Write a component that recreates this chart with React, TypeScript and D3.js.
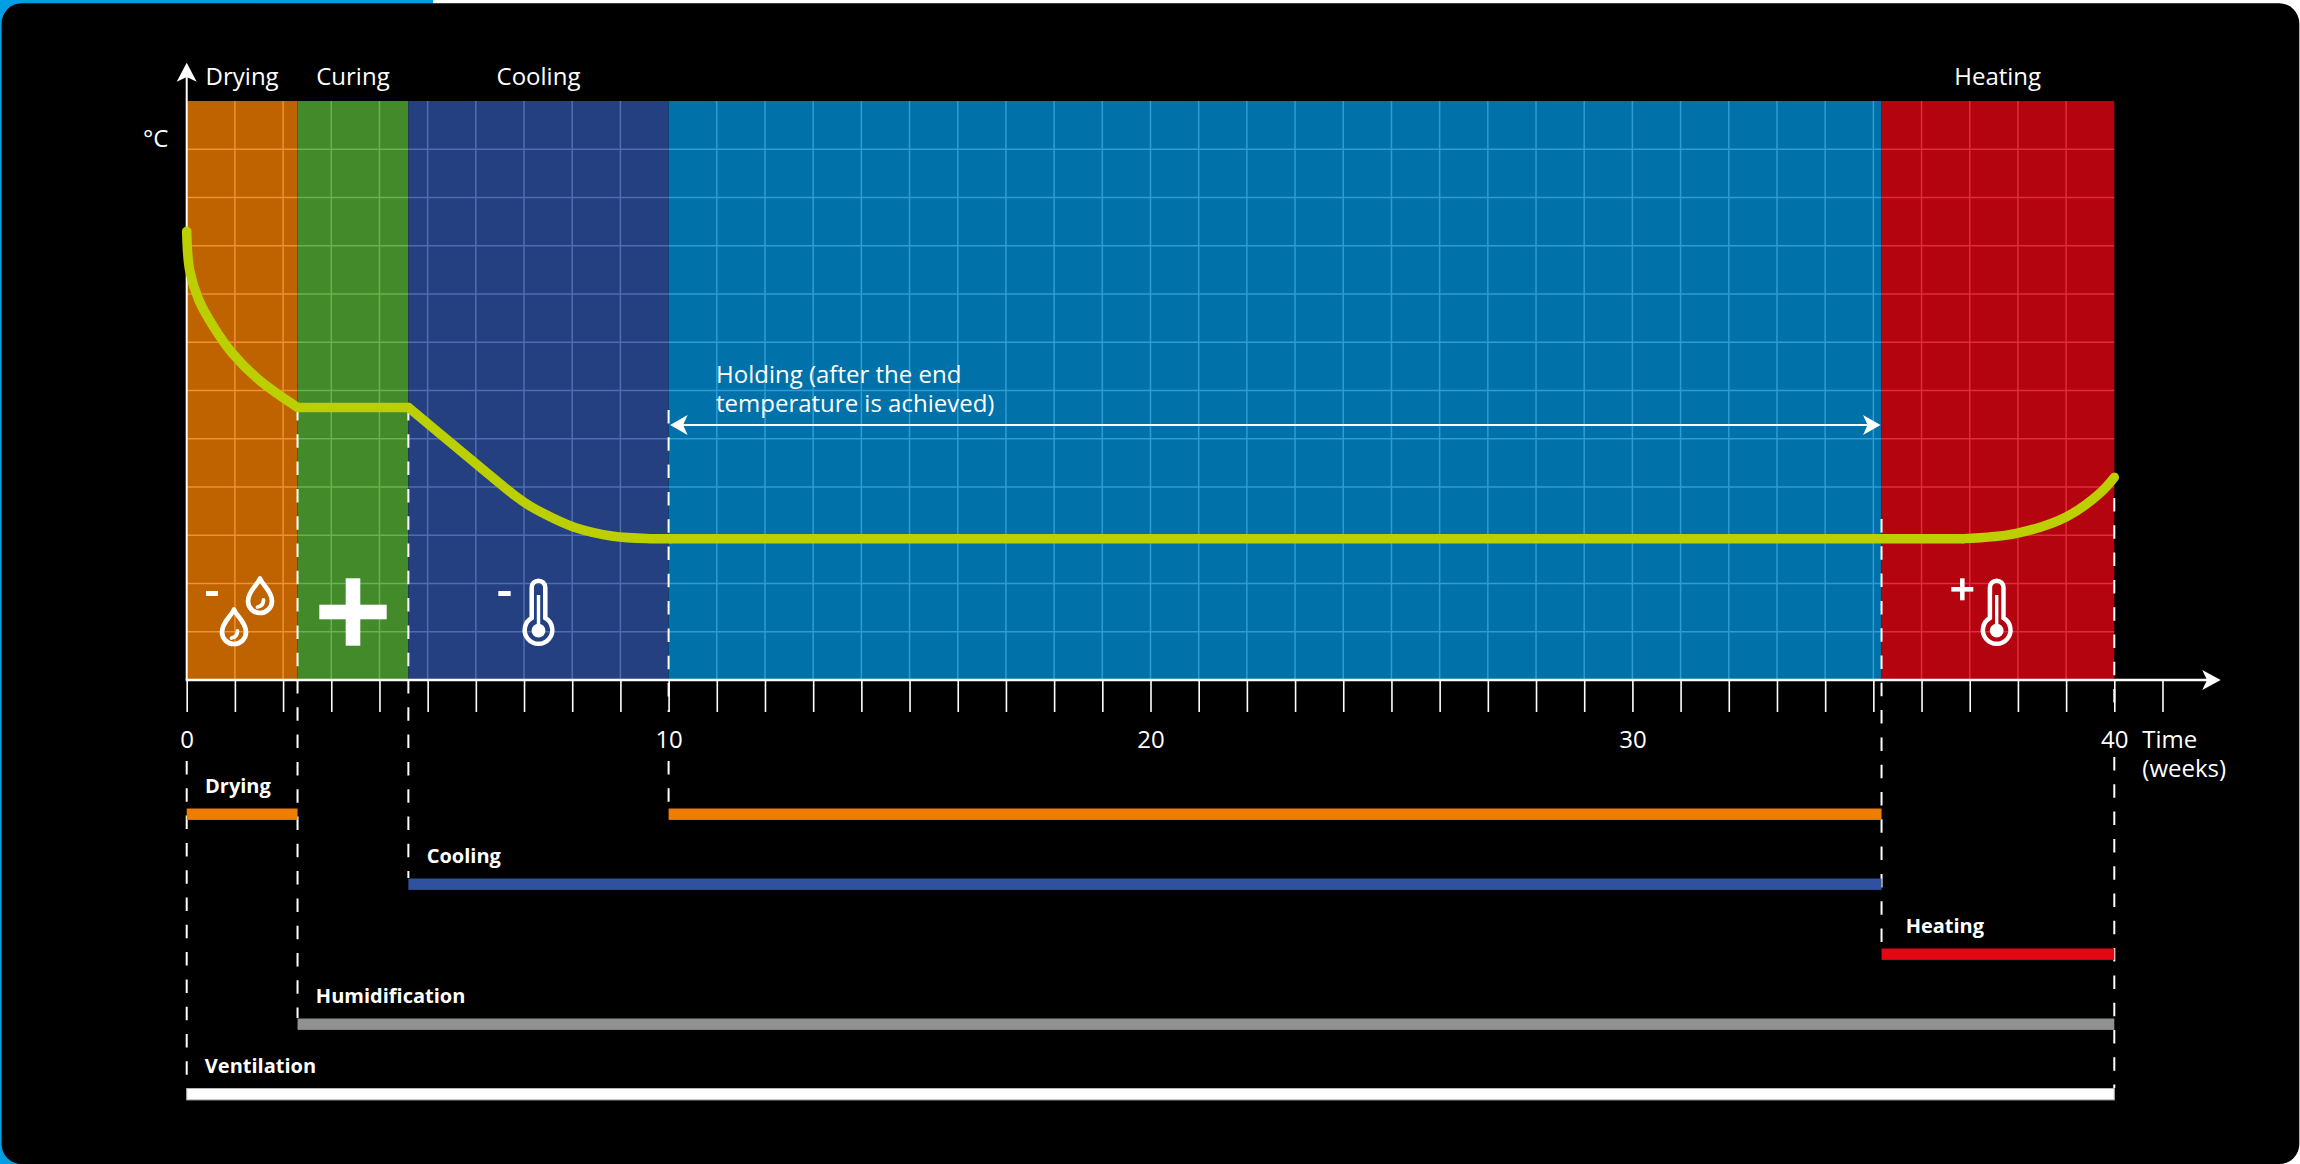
import React, { useEffect, useRef } from 'react';
import * as d3 from 'd3';

const WIDTH = 2300;
const HEIGHT = 1164;
const FONT = '"Open Sans", sans-serif';

// phases in weeks
const phaseNames = ['Drying', 'Curing', 'Cooling', 'Holding', 'Heating'];
const phaseStarts = [0, 2.3, 4.6, 10, 35.17];
const phaseEnds = [2.3, 4.6, 10, 35.17, 40];
const phaseFills = ['#bf6200', '#428a2a', '#244080', '#0072a9', '#b4040f'];
const phaseGrids = ['#ee9033', '#6db050', '#4f6daf', '#2e9bd6', '#de2d3e'];

const headerNames = ['Drying', 'Curing', 'Cooling', 'Heating'];
const headerWeeks = [1.15, 3.45, 7.3, 37.58];

const tickWeeks = d3.range(0, 42);
const labelWeeks = [0, 10, 20, 30, 40];
const gridLevels = d3.range(1, 12);

// temperature curve, [week, level]
const dryingCurve: [number, number][] = [[0, 9.3], [0.06, 8.5], [0.25, 7.88], [0.57, 7.3], [0.94, 6.78], [1.5, 6.22], [2.3, 5.65]];
const curingCurve: [number, number][] = [[2.3, 5.65], [4.6, 5.65]];
const coolingCurve: [number, number][] = [[4.6, 5.65], [6.02, 4.47], [6.8, 3.83], [7.15, 3.59], [7.47, 3.42], [8.09, 3.15], [8.85, 2.98], [9.61, 2.93], [10.03, 2.93]];
const holdingCurve: [number, number][] = [[10.03, 2.93], [36.87, 2.93]];
const heatingCurve: [number, number][] = [[36.87, 2.93], [37.97, 3.04], [39, 3.38], [39.7, 3.87], [40, 4.2]];

// dashed guides: week, top and bottom of each run in px (broken around the tick labels)
const guideWeeks = [0, 2.3, 4.6, 10, 10, 35.17, 40, 40];
const guideStarts = [761, 407, 407, 410, 761, 519, 498, 757];
const guideEnds = [1088, 1018, 878, 712, 808, 948, 712, 1088];

// equipment bars
const barNames = ['Drying', 'Drying', 'Cooling', 'Heating', 'Humidification', 'Ventilation'];
const barStarts = [0, 10, 4.6, 35.17, 2.3, 0];
const barEnds = [2.3, 35.17, 35.17, 40, 40, 40];
const barRows = [0, 0, 1, 2, 3, 4];
const barFills = ['#ef7d00', '#ef7d00', '#2f52a0', '#e30613', '#8f9291', '#ffffff'];
const barLabelWeeks = [0.38, -1, 4.98, 35.67, 2.68, 0.376];

const App: React.FC = () => {
  const svgRef = useRef<SVGSVGElement>(null);

  useEffect(() => {
    if (!svgRef.current) return;
    const svg = d3.select(svgRef.current);
    svg.selectAll('*').remove();

    const x = d3.scaleLinear().domain([0, 41]).range([186.7, 186.7 + 41 * 48.19]);
    const y = d3.scaleLinear().domain([0, 12]).range([680, 101]);
    const rowY = d3.scaleLinear().domain([0, 4]).range([808.5, 1088.5]);

    // page frame
    svg.append('rect').attr('width', WIDTH).attr('height', HEIGHT).attr('fill', '#fff');
    svg.append('rect').attr('width', 433).attr('height', 4).attr('fill', '#009fe3');
    svg.append('rect').attr('width', 25).attr('height', HEIGHT).attr('fill', '#009fe3');
    svg.append('rect')
      .attr('x', 1.6).attr('y', 3.3)
      .attr('width', WIDTH - 2.3).attr('height', HEIGHT - 3.3)
      .attr('rx', 20).attr('fill', '#000');

    // phases
    const plot = svg.append('g');
    phaseNames.forEach((_, i) => {
      const x0 = x(phaseStarts[i]);
      const x1 = x(phaseEnds[i]);
      plot.append('rect')
        .attr('x', x0).attr('y', y(12))
        .attr('width', x1 - x0).attr('height', y(0) - y(12))
        .attr('fill', phaseFills[i]);
      // grid
      gridLevels.forEach(level => {
        plot.append('line')
          .attr('x1', x0).attr('x2', x1)
          .attr('y1', y(level)).attr('y2', y(level))
          .attr('stroke', phaseGrids[i]).attr('stroke-width', 1.5);
      });
      tickWeeks
        .filter(w => w > phaseStarts[i] && w < phaseEnds[i])
        .forEach(w => {
          plot.append('line')
            .attr('x1', x(w)).attr('x2', x(w))
            .attr('y1', y(12)).attr('y2', y(0))
            .attr('stroke', phaseGrids[i]).attr('stroke-width', 1.5);
        });
    });

    // guides
    guideWeeks.forEach((w, i) => {
      svg.append('line')
        .attr('x1', x(w)).attr('x2', x(w))
        .attr('y1', guideStarts[i]).attr('y2', guideEnds[i])
        .attr('stroke', '#fff').attr('stroke-width', 2)
        .attr('stroke-dasharray', '13.5 13.8');
    });

    // axis ticks and labels
    const axis = d3.axisBottom(x)
      .tickValues(tickWeeks)
      .tickSize(32)
      .tickPadding(19.4)
      .tickFormat(d => (labelWeeks.includes(+d) ? String(d) : ''));
    const axisG = svg.append('g')
      .attr('transform', `translate(0,${y(0)})`)
      .call(axis);
    axisG.select('.domain').remove();
    axisG.selectAll('line').attr('stroke', '#fff').attr('stroke-width', 1.6);
    axisG.selectAll('text')
      .attr('fill', '#fff')
      .style('font-family', FONT)
      .style('font-size', '24px');

    // axis lines with arrows
    svg.append('line')
      .attr('x1', x(0)).attr('x2', x(0)).attr('y1', y(0)).attr('y2', 75)
      .attr('stroke', '#fff').attr('stroke-width', 2);
    svg.append('line')
      .attr('x1', x(0) - 1).attr('x2', 2208).attr('y1', y(0)).attr('y2', y(0))
      .attr('stroke', '#fff').attr('stroke-width', 2.4);
    svg.append('path').attr('fill', '#fff')
      .attr('d', `M${x(0)},62.7 L${x(0) + 10},81.7 L${x(0)},77 L${x(0) - 10},81.7 Z`);
    svg.append('path').attr('fill', '#fff')
      .attr('d', `M2220.7,${y(0)} L2202.3,${y(0) - 10} L2207,${y(0)} L2202.3,${y(0) + 10} Z`);

    // holding arrow
    const ay = 425;
    svg.append('line')
      .attr('x1', x(10) + 8).attr('x2', x(35.17) - 8).attr('y1', ay).attr('y2', ay)
      .attr('stroke', '#fff').attr('stroke-width', 2);
    svg.append('path').attr('fill', '#fff')
      .attr('d', `M${x(10) + 1.5},${ay} L${x(10) + 19},${ay - 10} L${x(10) + 14.5},${ay} L${x(10) + 19},${ay + 10} Z`);
    svg.append('path').attr('fill', '#fff')
      .attr('d', `M${x(35.17) - 1},${ay} L${x(35.17) - 18.5},${ay - 10} L${x(35.17) - 14},${ay} L${x(35.17) - 18.5},${ay + 10} Z`);

    // temperature curve
    const smooth = d3.line<[number, number]>()
      .x(d => x(d[0]))
      .y(d => y(d[1]))
      .curve(d3.curveCatmullRom.alpha(0.5));
    [dryingCurve, curingCurve, coolingCurve, holdingCurve, heatingCurve].forEach(seg => {
      svg.append('path')
        .attr('d', smooth(seg))
        .attr('fill', 'none')
        .attr('stroke', '#bccf00')
        .attr('stroke-width', 9.5)
        .attr('stroke-linecap', 'round')
        .attr('stroke-linejoin', 'round');
    });

    // icons
    const icons = svg.append('g').attr('fill', '#fff');
    const thermometer = (cx: number) => {
      const g = icons.append('g').attr('transform', `translate(${cx},0)`);
      g.append('path')
        .attr('fill', 'none').attr('stroke', '#fff').attr('stroke-width', 4.5)
        .attr('d', 'M-6.8,618 V587.5 A6.8,6.8 0 0 1 6.8,587.5 V618 A13.8,13.8 0 1 1 -6.8,618 Z');
      g.append('rect').attr('x', -1.7).attr('y', 595).attr('width', 3.4).attr('height', 32);
      g.append('circle').attr('cy', 630.7).attr('r', 6.9);
    };
    thermometer(538.5);
    thermometer(1996.7);

    const drop = (cx: number, top: number) => {
      const g = icons.append('g').attr('transform', `translate(${cx},${top})`);
      g.append('path')
        .attr('fill', 'none').attr('stroke', '#fff').attr('stroke-width', 4.7)
        .attr('stroke-linejoin', 'round')
        .attr('d', 'M0,2.5 C2.5,9 12,15 12,25 A12,12 0 0 1 -12,25 C-12,15 -2.5,9 0,2.5 Z');
      g.append('path')
        .attr('fill', 'none').attr('stroke', '#fff').attr('stroke-width', 3.8)
        .attr('stroke-linecap', 'round')
        .attr('d', 'M-2.5,31 Q3.5,30 3.5,24');
    };
    drop(260, 576);
    drop(234, 607);

    // signs
    icons.append('rect').attr('x', 206).attr('y', 591).attr('width', 12).attr('height', 5);
    icons.append('rect').attr('x', 498.3).attr('y', 591).attr('width', 12.4).attr('height', 5);
    icons.append('rect').attr('x', 1951.3).attr('y', 587).attr('width', 22).attr('height', 4.6);
    icons.append('rect').attr('x', 1960).attr('y', 578.3).attr('width', 4.6).attr('height', 22);
    icons.append('rect').attr('x', 319.3).attr('y', 604.7).attr('width', 67.4).attr('height', 14.6);
    icons.append('rect').attr('x', 345.7).attr('y', 578.3).attr('width', 14.6).attr('height', 67.4);

    // equipment bars
    barNames.forEach((name, i) => {
      const yy = rowY(barRows[i]);
      svg.append('rect')
        .attr('x', x(barStarts[i])).attr('y', yy)
        .attr('width', x(barEnds[i]) - x(barStarts[i])).attr('height', 11.4)
        .attr('fill', barFills[i])
        .attr('stroke', barFills[i] === '#ffffff' ? '#b4b4b4' : 'none')
        .attr('stroke-width', 1);
      if (barLabelWeeks[i] >= 0) {
        svg.append('text')
          .attr('x', x(barLabelWeeks[i])).attr('y', yy - 16)
          .attr('fill', '#fff')
          .style('font-family', FONT)
          .style('font-size', '20px')
          .style('font-weight', 700)
          .text(name);
      }
    });

    // texts
    const text = (s: string, tx: number, ty: number, anchor = 'start') =>
      svg.append('text')
        .attr('x', tx).attr('y', ty)
        .attr('text-anchor', anchor)
        .attr('fill', '#fff')
        .style('font-family', FONT)
        .style('font-size', '24px')
        .text(s);

    headerNames.forEach((name, i) => text(name, x(headerWeeks[i]), 85, 'middle'));
    text('°C', 143, 147);
    text('Time', 2142.3, 747.7);
    text('(weeks)', 2142.3, 776.7);
    text('Holding (after the end', 716, 382.7);
    text('temperature is achieved)', 716, 412);
  }, []);

  return (
    <svg
      ref={svgRef}
      width={WIDTH}
      height={HEIGHT}
      viewBox={`0 0 ${WIDTH} ${HEIGHT}`}
      style={{ position: 'absolute', left: 0, top: 0, display: 'block' }}
    />
  );
};

export default App;
